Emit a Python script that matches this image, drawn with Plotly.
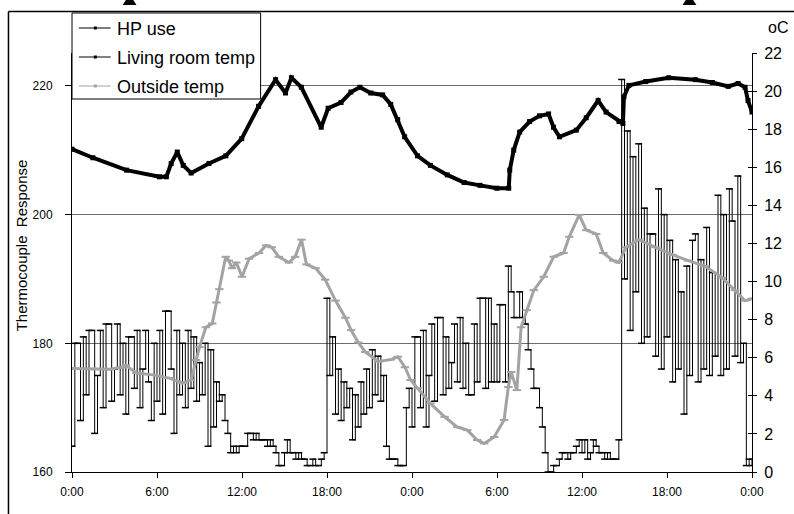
import plotly.graph_objects as go

# ---- data -------------------------------------------------------------
# HP use (thermocouple response), logged every 0.2 h over two days
hp_step_h = 0.2
hp_use = [
    164, 180, 180, 168, 181, 172, 182, 182, 166, 175,
    182, 170, 183, 183, 171, 176, 183, 172, 180, 169,
    181, 181, 173, 182, 170, 176, 182, 174, 168, 180,
    171, 182, 169, 185, 185, 176, 166, 182, 172, 180,
    170, 182, 173, 181, 171, 177, 172, 180, 164, 179,
    167, 174, 171, 172, 168, 166, 163, 164, 163, 164,
    164, 164, 166, 166, 165, 166, 165, 165, 165, 164,
    165, 164, 163, 161, 161, 163, 165, 163, 163, 162,
    163, 162, 162, 161, 161, 162, 161, 161, 162, 163,
    187, 175, 181, 169, 176, 168, 174, 170, 173, 165,
    172, 167, 174, 169, 176, 170, 179, 172, 178, 171,
    175, 164, 162, 162, 162, 161, 161, 161, 170, 173,
    167, 181, 181, 170, 182, 167, 175, 183, 171, 184,
    184, 172, 181, 173, 177, 183, 174, 184, 173, 180,
    172, 172, 183, 174, 187, 187, 173, 187, 174, 183,
    174, 186, 186, 174, 192, 188, 184, 184, 188, 184,
    183, 179, 176, 173, 173, 170, 167, 163, 160, 160,
    161, 161, 162, 163, 163, 162, 163, 163, 164, 165,
    163, 165, 162, 163, 165, 164, 163, 163, 162, 163,
    162, 162, 162, 165, 221, 190, 213, 182, 209, 188,
    211, 180, 201, 181, 197, 197, 178, 204, 176, 200,
    181, 196, 174, 193, 176, 188, 169, 192, 175, 196,
    197, 174, 193, 176, 198, 175, 191, 178, 203, 175,
    200, 176, 204, 199, 178, 206, 177, 180, 161, 162,
    161,
]
hp_hours = [round(i * hp_step_h, 2) for i in range(len(hp_use))]

# Living room temperature (deg C)
room_hours = [
    0.0, 1.47, 3.85, 6.17, 6.66, 7.0, 7.43, 7.85, 8.41, 9.67,
    10.86, 11.98, 13.17, 14.37, 15.07, 15.49, 16.19, 17.59, 18.08, 18.99,
    19.69, 20.32, 21.09, 21.93, 22.5, 22.99, 23.48, 24.39, 25.3, 26.49,
    27.68, 28.8, 29.99, 30.83, 30.9, 31.18, 31.6, 32.3, 33.0, 33.64,
    33.99, 34.41, 35.6, 36.3, 37.14, 37.7, 38.61, 38.89, 38.96, 39.31,
    40.5, 42.12, 44.0, 45.2, 46.32, 47.02, 47.51, 47.72, 48.0,
]
room_temp = [
    16.95, 16.5, 15.85, 15.5, 15.5, 16.2, 16.8, 16.1, 15.7, 16.2,
    16.6, 17.5, 19.2, 20.6, 19.9, 20.7, 20.2, 18.1, 19.1, 19.4,
    19.95, 20.2, 19.9, 19.8, 19.3, 18.5, 17.6, 16.6, 16.1, 15.6,
    15.2, 15.05, 14.9, 14.9, 15.85, 16.9, 17.85, 18.4, 18.7, 18.8,
    18.1, 17.6, 17.95, 18.6, 19.5, 18.9, 18.4, 18.3, 19.7, 20.3,
    20.5, 20.7, 20.6, 20.45, 20.25, 20.4, 20.2, 19.5, 18.9,
]

# Outside temperature (deg C)
out_hours = [
    0.0, 1.5, 2.66, 3.5, 3.8, 4.55, 5.7, 6.87, 7.8, 8.4,
    8.75, 9.0, 9.45, 9.9, 10.2, 10.4, 10.85, 11.07, 11.3, 11.6,
    12.0, 12.5, 13.2, 13.7, 14.1, 14.6, 15.3, 15.75, 16.2, 16.55,
    17.2, 17.87, 18.6, 19.3, 19.7, 20.2, 20.7, 21.6, 22.5, 23.0,
    23.5, 23.9, 24.4, 25.3, 26.3, 27.2, 27.9, 28.6, 29.1, 29.8,
    30.5, 30.8, 31.0, 31.4, 31.7, 32.1, 32.6, 33.3, 34.0, 34.7,
    35.1, 35.8, 36.3, 37.0, 37.5, 38.2, 38.6, 39.1, 40.0, 41.2,
    42.4, 43.5, 44.7, 45.9, 46.8, 47.5, 48.0,
]
out_temp = [
    5.44, 5.4, 5.4, 5.5, 5.6, 5.2, 5.1, 4.93, 4.67, 4.83,
    5.88, 6.56, 7.6, 7.8, 8.9, 9.6, 11.3, 11.1, 10.7, 11.0,
    10.25, 11.2, 11.5, 11.9, 11.8, 11.3, 11.0, 11.3, 12.2, 10.9,
    10.7, 10.1, 9.0, 8.1, 7.45, 6.8, 6.3, 5.8, 5.9, 6.05,
    5.5, 4.83, 4.4, 3.6, 2.9, 2.36, 2.2, 1.68, 1.5, 1.84,
    2.73, 4.46, 5.25, 4.3, 7.6, 8.5, 9.55, 10.25, 11.3, 11.5,
    12.35, 13.5, 12.7, 12.5, 11.5, 11.1, 11.0, 11.8, 12.2, 11.8,
    11.4, 11.1, 10.8, 10.2, 9.55, 9.0, 9.1,
]

x_tick_hours = [0, 6, 12, 18, 24, 30, 36, 42, 48]
x_tick_text = ["0:00", "6:00", "12:00", "18:00", "0:00", "6:00", "12:00", "18:00", "0:00"]
left_ticks = [160, 180, 200, 220]
right_ticks = list(range(0, 23, 2))

series_names = ["HP use", "Living room temp", "Outside temp"]
series_colors = ["black", "black", "#a3a3a3"]

# ---- layout geometry --------------------------------------------------
W, H = 794, 514
L, R, T, B = 72, 757, 53, 472          # plot area in pixels
FONT = "Liberation Sans, Arial, sans-serif"


def px(x):
    return (x - L) / (R - L)


def py(y):
    return (B - y) / (B - T)


fig = go.Figure()

fig.add_trace(go.Scatter(
    x=hp_hours, y=hp_use, name=series_names[0], yaxis="y",
    mode="lines+markers", line=dict(color=series_colors[0], width=1, shape="hv"),
    marker=dict(symbol="line-ew", size=5, color="black",
                line=dict(color="black", width=1.5)),
    showlegend=False,
))
fig.add_trace(go.Scatter(
    x=room_hours, y=room_temp, name=series_names[1], yaxis="y2",
    mode="lines+markers", line=dict(color=series_colors[1], width=4),
    marker=dict(symbol="square", size=5, color="black"),
    showlegend=False,
))
fig.add_trace(go.Scatter(
    x=out_hours, y=out_temp, name=series_names[2], yaxis="y2",
    mode="lines+markers", line=dict(color=series_colors[2], width=3),
    marker=dict(symbol="line-ew", size=6, color="#a3a3a3",
                line=dict(color="#a3a3a3", width=2)),
    showlegend=False,
))
# carrier for the inner half of the right-hand tick marks
fig.add_trace(go.Scatter(x=[None], y=[None], yaxis="y3", showlegend=False,
                         hoverinfo="skip"))

frame = dict(color="black", width=1.5)
shapes = [
    dict(type="line", xref="paper", yref="paper",
         x0=px(8), x1=px(8), y0=py(11.5), y1=py(520), line=frame),
    dict(type="line", xref="paper", yref="paper",
         x0=px(8), x1=px(800), y0=py(11.5), y1=py(11.5), line=frame),
]
for cx in (130, 694):
    shapes.append(dict(
        type="path", xref="paper", yref="paper", fillcolor="black",
        line=dict(width=0),
        path=(f"M {px(cx - 7)} {py(5)} L {px(cx + 7)} {py(5)} "
              f"L {px(cx + 3)} {py(-1)} L {px(cx - 3)} {py(-1)} Z"),
    ))

# key box drawn in the top-left corner of the plot
annotations = []
shapes.append(dict(type="rect", xref="paper", yref="paper",
                   x0=px(72), x1=px(262), y0=py(99), y1=py(13),
                   fillcolor="white", line=dict(color="black", width=1)))
for k, (name, col) in enumerate(zip(series_names, series_colors)):
    ry = 28 + 29 * k
    shapes.append(dict(type="line", xref="paper", yref="paper",
                       x0=px(79), x1=px(111), y0=py(ry), y1=py(ry),
                       line=dict(color=col, width=1)))
    shapes.append(dict(type="rect", xref="paper", yref="paper",
                       x0=px(94), x1=px(97), y0=py(ry + 1.5), y1=py(ry - 1.5),
                       fillcolor=col, line=dict(width=0)))
    annotations.append(dict(text=name, xref="paper", yref="paper",
                            x=px(115), y=py(ry + 1), xanchor="left",
                            yanchor="middle", showarrow=False,
                            font=dict(size=18, family=FONT, color="black")))

annotations += [
    dict(text="Thermocouple  Response", xref="paper", yref="paper",
         x=px(22), y=py(245), textangle=-90, showarrow=False,
         font=dict(size=15, family=FONT), xanchor="center",
         yanchor="middle"),
    dict(text="oC", xref="paper", yref="paper", x=px(783), y=py(27),
         showarrow=False, font=dict(size=16, family=FONT),
         xanchor="center", yanchor="middle"),
]

fig.update_layout(
    width=W, height=H,
    margin=dict(l=L, r=W - R, t=T, b=H - B),
    paper_bgcolor="white", plot_bgcolor="white",
    font=dict(family=FONT, color="black", size=12),
    showlegend=False,
    xaxis=dict(range=[0, 48], tickvals=x_tick_hours, ticktext=x_tick_text,
               showgrid=False, zeroline=False, showline=True,
               linecolor="black", linewidth=1, ticks="outside", ticklen=5,
               tickcolor="black", tickfont=dict(size=12),
               ticklabelstandoff=4),
    yaxis=dict(range=[160, 160 + (B - T) * 20 / 128.7], tickvals=left_ticks,
               showgrid=True, gridcolor="#6e6e6e", gridwidth=1,
               zeroline=False, showline=True, linecolor="black",
               linewidth=1, ticks="outside", ticklen=6, tickcolor="black",
               tickfont=dict(size=12), ticklabelstandoff=10),
    yaxis2=dict(range=[0, 22], tickvals=right_ticks, overlaying="y",
                side="right", showgrid=False, zeroline=False,
                showline=True, linecolor="black", linewidth=1,
                ticks="outside", ticklen=4, tickcolor="black",
                tickfont=dict(size=16), ticklabelstandoff=4),
    yaxis3=dict(range=[0, 22], tickvals=right_ticks, overlaying="y",
                side="right", showgrid=False, zeroline=False,
                showline=False, ticks="inside", ticklen=4,
                tickcolor="black", showticklabels=False),
    shapes=shapes,
    annotations=annotations,
)

fig.write_html("out.html")
